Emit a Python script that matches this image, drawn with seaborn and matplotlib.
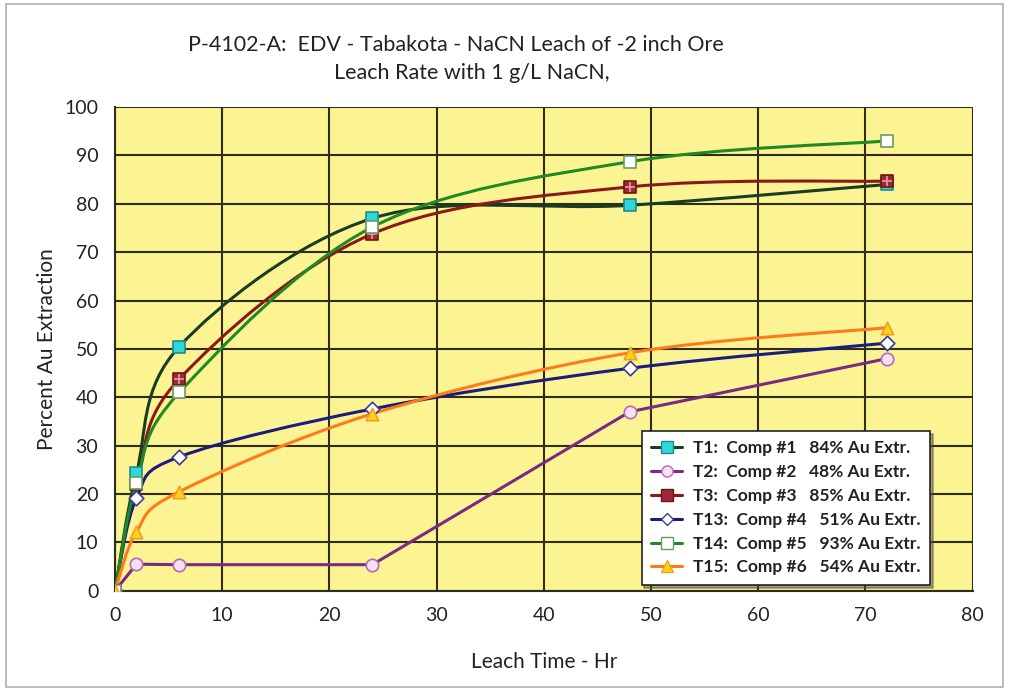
import matplotlib
matplotlib.use("Agg")
import matplotlib.pyplot as plt
from matplotlib.path import Path
from matplotlib.patches import PathPatch, Rectangle
from matplotlib.lines import Line2D
import seaborn as sns
import pandas as pd

# Leach time (hours) and % Au extraction for each test
hours = [0, 2, 6, 24, 48, 72]
t1 = [0, 24.3, 50.5, 77.0, 79.7, 84.0]
t2 = [0, 5.5, 5.4, 5.4, 37.0, 48.0]
t3 = [0, 22.0, 43.8, 73.8, 83.5, 84.7]
t13 = [0, 19.2, 27.7, 37.6, 46.0, 51.2]
t14 = [0, 22.3, 41.0, 75.2, 88.7, 93.0]
t15 = [0, 12.2, 20.5, 36.6, 49.2, 54.4]

labels = [
    "T1:  Comp #1   84% Au Extr.",
    "T2:  Comp #2   48% Au Extr.",
    "T3:  Comp #3   85% Au Extr.",
    "T13:  Comp #4   51% Au Extr.",
    "T14:  Comp #5   93% Au Extr.",
    "T15:  Comp #6   54% Au Extr.",
]
x_ticks = list(range(0, 81, 10))
y_ticks = list(range(0, 101, 10))

sns.set_style("white")
plt.rcParams["font.family"] = ["Lato", "DejaVu Sans"]
INK = "#222222"
GRID = "#2e2e1c"

# series style: line colour, marker, face, edge, smoothed or straight
styles = [
    dict(line="#173d22", marker="s", face="#33d6d6", edge="#1c8c8c", smooth=True),
    dict(line="#7a2a82", marker="o", face="#f4e0f0", edge="#b56bb8", smooth=False),
    dict(line="#8a1a1a", marker="s", face="#9a2a3a", edge="#7a1010", smooth=True),
    dict(line="#1c1c7c", marker="D", face="#ffffff", edge="#3a3a9a", smooth=True),
    dict(line="#1f8a24", marker="s", face="#ffffff", edge="#6a9a6a", smooth=True),
    dict(line="#ff7a1a", marker="^", face="#ffd21a", edge="#f0a020", smooth=True),
]
series = [t1, t2, t3, t13, t14, t15]

fig = plt.figure(figsize=(10.09, 6.91), dpi=100)
fig.patches.append(Rectangle((0.006, 0.006), 0.988, 0.988, transform=fig.transFigure,
                             fill=False, edgecolor="#b0b0b0", lw=1.2))
ax = fig.add_axes([0.114, 0.145, 0.850, 0.700])
ax.set_facecolor("#fcf493")


def curve_path(xs, ys, smooth):
    """Path through the points: Bezier segments (spreadsheet-style smoothing) or straight."""
    pts = list(zip(xs, ys))
    verts = [pts[0]]
    codes = [Path.MOVETO]
    n = len(pts)
    for i in range(n - 1):
        p1 = pts[i]
        p2 = pts[i + 1]
        if not smooth:
            verts.append(p2)
            codes.append(Path.LINETO)
            continue
        p0 = pts[i - 1] if i > 0 else pts[i]
        p3 = pts[i + 2] if i + 2 < n else pts[i + 1]
        c1 = (p1[0] + (p2[0] - p0[0]) / 6, p1[1] + (p2[1] - p0[1]) / 6)
        c2 = (p2[0] - (p3[0] - p1[0]) / 6, p2[1] - (p3[1] - p1[1]) / 6)
        verts += [c1, c2, p2]
        codes += [Path.CURVE4] * 3
    return Path(verts, codes)


for i, (vals, st) in enumerate(zip(series, styles)):
    ax.add_patch(PathPatch(curve_path(hours, vals, st["smooth"]), fill=False,
                           edgecolor=st["line"], lw=2.2, zorder=3 + i * 0.1,
                           joinstyle="round", capstyle="round"))

for i, (vals, st) in enumerate(zip(series, styles)):
    df = pd.DataFrame({"hours": hours, "pct": vals})
    sns.scatterplot(data=df, x="hours", y="pct", marker=st["marker"],
                    s=80 if st["marker"] != "D" else 55,
                    color=st["face"], edgecolor=st["edge"], linewidth=1.2,
                    zorder=5 + i * 0.1, ax=ax)
    if i == 2:
        sns.scatterplot(data=df, x="hours", y="pct", marker="+", s=60, color="#e89aa8",
                        linewidth=1.2, zorder=5.25, ax=ax)

ax.set_xlim(0, 80)
ax.set_ylim(0, 100)
ax.set_xticks(x_ticks)
ax.set_yticks(y_ticks)
ax.set_xticklabels([str(v) for v in x_ticks], fontsize=14, color=INK)
ax.set_yticklabels([str(v) for v in y_ticks], fontsize=14, color=INK)
ax.grid(True, color=GRID, lw=1.5, zorder=1)
ax.set_axisbelow(True)
for sp in ax.spines.values():
    sp.set_visible(False)
for side in ("left", "bottom"):
    ax.spines[side].set_visible(True)
    ax.spines[side].set_color(GRID)
    ax.spines[side].set_linewidth(1.5)
ax.tick_params(axis="both", direction="out", length=6, width=1.5, color=GRID, pad=6)

ax.set_xlabel("Leach Time - Hr", fontsize=15, labelpad=20, color=INK)
ax.set_ylabel("Percent Au Extraction", fontsize=15, labelpad=5, color=INK)

fig.text(0.452, 0.935, "P-4102-A:  EDV - Tabakota - NaCN Leach of -2 inch Ore",
         ha="center", va="center", fontsize=15.5, color=INK)
fig.text(0.468, 0.895, "Leach Rate with 1 g/L NaCN,", ha="center", va="center",
         fontsize=15.5, color=INK)

handles = []
for st in styles:
    handles.append(Line2D([0], [0], color=st["line"], lw=2.2, marker=st["marker"],
                          markerfacecolor=st["face"], markeredgecolor=st["edge"],
                          markersize=8 if st["marker"] != "D" else 6))
leg = ax.legend(handles, labels, loc="lower right", bbox_to_anchor=(0.95, 0.012),
                borderaxespad=0, frameon=True, fancybox=False, shadow=True, fontsize=12.5,
                handlelength=1.8, labelspacing=0.45, borderpad=0.55, handletextpad=0.6)
leg.get_frame().set_edgecolor("#222222")
leg.get_frame().set_linewidth(1.2)
leg.set_zorder(10)
for t in leg.get_texts():
    t.set_fontweight("bold")
    t.set_color(INK)

fig.savefig("out.png", dpi=100)
